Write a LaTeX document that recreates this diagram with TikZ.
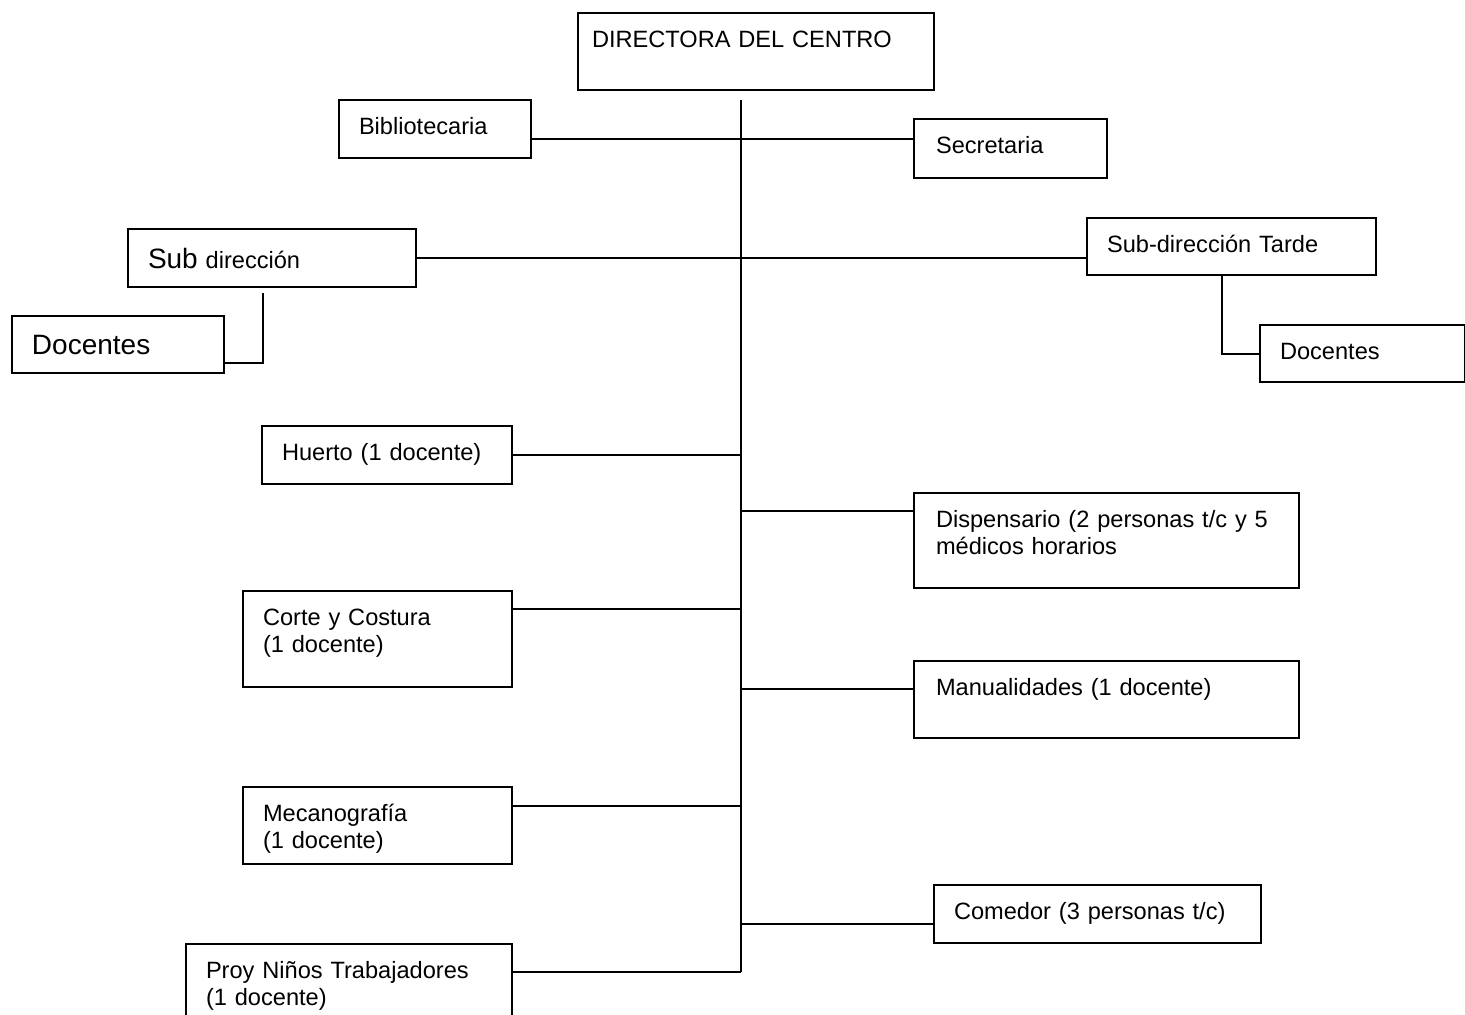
\documentclass[tikz,border=0pt]{standalone}
\usepackage{fontspec}
\setmainfont{Liberation Sans}
\usepackage{tikz}
\usetikzlibrary{positioning,calc}

\tikzset{
  orgbox/.style={draw, rectangle, line width=1pt, anchor=north west, align=left,
    inner xsep=10pt, inner ysep=0pt, text height=17pt,
    font=\fontsize{11.8pt}{13.8pt}\selectfont},
  bigtext/.style={font=\fontsize{14pt}{16pt}\selectfont},
  link/.style={line width=1pt}
}

\begin{document}
\begin{tikzpicture}[x=0.5pt, y=-0.5pt]
    \useasboundingbox (0,0) rectangle (1465,1014);
    \clip (0,0) rectangle (1465,1014);

    % Direccion
    \node[orgbox, inner xsep=7pt, text width=164pt, text depth=21.5pt] (dir) at (577,12) {DIRECTORA DEL CENTRO};
    \node[orgbox, text width=76pt, text depth=12pt] (bib) at (338,99) {Bibliotecaria};
    \node[orgbox, inner xsep=11pt, text width=74.5pt, text depth=12.5pt] (sec) at (913,118) {Secretaria};

    % Sub direcciones
    \node[orgbox, text width=124pt, text height=19.5pt, text depth=9.5pt] (subd) at (127,228) {{\fontsize{14pt}{16pt}\selectfont Sub} dirección};
    \node[orgbox, bigtext, text width=86pt, text height=19pt, text depth=9.5pt] (docL) at (11,315) {Docentes};
    \node[orgbox, text width=124.5pt, text depth=11.5pt] (subt) at (1086,217) {Sub-dirección Tarde};
    \node[orgbox, text width=82.5pt, text depth=11.5pt] (docR) at (1259,324) {Docentes};

    % Talleres y servicios
    \node[orgbox, text width=105pt, text depth=12pt] (huerto) at (261,425) {Huerto (1 docente)};
    \node[orgbox, inner xsep=11pt, text width=170.5pt, text depth=30.5pt] (disp) at (913,492) {Dispensario (2 personas t/c y 5\\médicos horarios};
    \node[orgbox, text width=114.5pt, text depth=31pt] (corte) at (242,590) {Corte y Costura\\(1 docente)};
    \node[orgbox, inner xsep=11pt, text width=170.5pt, text depth=21.5pt] (manual) at (913,660) {Manualidades (1 docente)};
    \node[orgbox, text width=114.5pt, text depth=21.5pt] (meca) at (242,786) {Mecanografía\\(1 docente)};
    \node[orgbox, text width=143.5pt, text depth=12pt] (comedor) at (933,884) {Comedor (3 personas t/c)};
    \node[orgbox, text width=143pt, text depth=31pt] (proy) at (185,943) {Proy Niños Trabajadores\\(1 docente)};

    % Linea central
    \coordinate (top) at (741,100);
    \coordinate (bot) at (741,972);
    \draw[link] (top) -- (bot);

    \draw[link] ([yshift=-5pt]bib.east) -- ([yshift=-5pt]bib.east -| sec.west);
    \draw[link] (subd.east) -- (subd.east -| subt.west);
    \draw[link] ([xshift=-4.5pt,yshift=-2.5pt]subd.south) |- ([yshift=-9pt]docL.east);
    \draw[link] ([xshift=-4.75pt]subt.south) |- (docR.west);

    \draw[link] (huerto.east) -- (huerto.east -| top);
    \draw[link] ([yshift=-9.5pt]disp.north west) -- ([yshift=-9.5pt]disp.north west -| top);
    \draw[link] ([yshift=-9.5pt]corte.north east) -- ([yshift=-9.5pt]corte.north east -| top);
    \draw[link] ([yshift=-14.5pt]manual.north west) -- ([yshift=-14.5pt]manual.north west -| top);
    \draw[link] ([yshift=-10pt]meca.north east) -- ([yshift=-10pt]meca.north east -| top);
    \draw[link] ([yshift=-5pt]comedor.west) -- ([yshift=-5pt]comedor.west -| top);
    \draw[link] ([yshift=-14.5pt]proy.north east) -- ([yshift=-14.5pt]proy.north east -| top);
\end{tikzpicture}
\end{document}
